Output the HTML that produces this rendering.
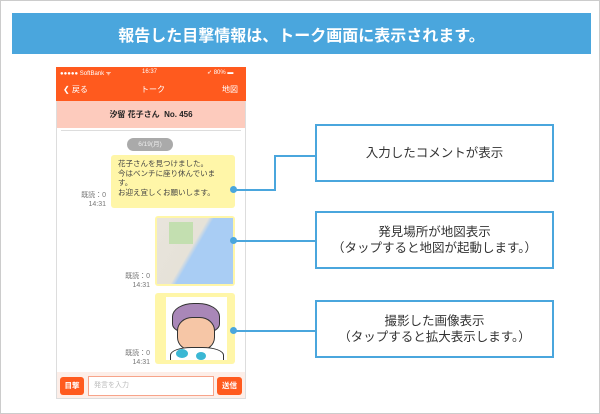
<!DOCTYPE html>
<html><head><meta charset="utf-8"><style>
*{margin:0;padding:0;box-sizing:border-box}
body{width:600px;height:414px;background:#fff;position:relative;overflow:hidden;font-family:"Liberation Sans","Noto Sans CJK JP",sans-serif}
.a{position:absolute}
.box{position:absolute;left:315px;width:239px;border:2px solid #4aa6dd;background:#fff;display:flex;align-items:center;justify-content:center;text-align:center;font-size:12.5px;color:#333;line-height:16px}
.ln{position:absolute;background:#4aa6dd}
.dot{position:absolute;width:7px;height:7px;border-radius:50%;background:#4aa6dd}
.rd{position:absolute;font-size:7px;color:#777;text-align:right;line-height:9px}
</style></head><body>
<div class="a" style="left:0;top:0;width:600px;height:414px;border:1px solid #ccc"></div>
<div class="a" style="left:12px;top:13px;width:579px;height:41px;background:#4aa6dd;color:#fff;font-size:16px;font-weight:bold;display:flex;align-items:center;justify-content:center">報告した目撃情報は、トーク画面に表示されます。</div>

<!-- phone -->
<div class="a" style="left:56px;top:67px;width:190px;height:332px;background:#fff;border:1px solid #ddd"></div>
<div class="a" style="left:56px;top:67px;width:190px;height:34px;background:#ff5a1e;color:#fff"></div>
<div class="a" style="left:60px;top:69px;font-size:6px;color:#fff">●●●●● SoftBank ᯤ</div>
<div class="a" style="left:142px;top:69px;font-size:6px;color:#fff">16:37</div>
<div class="a" style="left:207px;top:69px;font-size:6px;color:#fff">➶ 80% ▬</div>
<div class="a" style="left:63px;top:84px;font-size:8px;color:#fff">❮ 戻る</div>
<div class="a" style="left:141px;top:84px;font-size:8px;color:#fff">トーク</div>
<div class="a" style="left:222px;top:84px;font-size:8px;color:#fff">地図</div>
<div class="a" style="left:57px;top:101px;width:188px;height:27px;background:#fdcbbd;font-size:8px;font-weight:bold;color:#222;display:flex;align-items:center;justify-content:center">汐留 花子さん&nbsp;&nbsp;No. 456</div>
<div class="a" style="left:61px;top:130px;width:180px;height:1px;background:#ddd"></div>
<div class="a" style="left:127px;top:138px;width:46px;height:13px;border-radius:7px;background:#aaa;color:#eee;font-size:6.5px;text-align:center;line-height:13px">6/19(月)</div>
<div class="a" style="left:111px;top:155px;width:124px;height:53px;background:#fff6a8;border-radius:3px;padding:4px 7px;font-size:7.5px;line-height:9.5px;color:#444">花子さんを見つけました。<br>今はベンチに座り休んでいます。<br>お迎え宜しくお願いします。</div>
<div class="rd" style="left:80px;top:191px;width:26px">既読：0<br>14:31</div>
<div class="a" style="left:155px;top:216px;width:80px;height:70px;background:#fff6a8;border-radius:3px;padding:2px"><div style="width:100%;height:100%;background:linear-gradient(120deg,#e8e4dc 0%,#e6e2d8 45%,#a9cdf4 50%,#a9cdf4 100%)"><div style="position:relative;left:12px;top:4px;width:24px;height:22px;background:#c3dfb0"></div></div></div>
<div class="rd" style="left:118px;top:272px;width:32px">既読：0<br>14:31</div>
<div class="a" style="left:155px;top:293px;width:80px;height:71px;background:#fff6a8;border-radius:3px"></div>
<div class="a" style="left:166px;top:297px;width:61px;height:63px;background:#fff;overflow:hidden">
 <div class="a" style="left:6px;top:6px;width:48px;height:30px;border-radius:45% 45% 30% 30%;background:#a987b8;border:1px solid #333"></div>
 <div class="a" style="left:11px;top:20px;width:38px;height:34px;border-radius:40%;background:#f6c6a6;border:1px solid #333"></div>
 <div class="a" style="left:4px;top:50px;width:54px;height:20px;border-radius:40% 40% 0 0;background:#fff;border:1px solid #333"></div>
 <div class="a" style="left:10px;top:52px;width:12px;height:9px;border-radius:50%;background:#3bb7d4"></div>
 <div class="a" style="left:30px;top:55px;width:10px;height:8px;border-radius:50%;background:#3bb7d4"></div>
</div>
<div class="rd" style="left:118px;top:349px;width:32px">既読：0<br>14:31</div>
<div class="a" style="left:57px;top:372px;width:188px;height:26px;background:#fdeee8"></div>
<div class="a" style="left:60px;top:377px;width:24px;height:18px;border-radius:3px;background:#ff5a1e;color:#fff;font-size:7.5px;font-weight:bold;text-align:center;line-height:18px">目撃</div>
<div class="a" style="left:88px;top:376px;width:126px;height:20px;border:1px solid #f7a48a;background:#fff;font-size:7px;color:#bbb;padding-left:5px;line-height:18px">発言を入力</div>
<div class="a" style="left:217px;top:377px;width:25px;height:18px;border-radius:3px;background:#ff5a1e;color:#fff;font-size:7.5px;font-weight:bold;text-align:center;line-height:18px">送信</div>

<!-- connectors -->
<div class="ln" style="left:233px;top:189px;width:43px;height:2px"></div>
<div class="ln" style="left:274px;top:155px;width:2px;height:36px"></div>
<div class="ln" style="left:274px;top:155px;width:42px;height:2px"></div>
<div class="dot" style="left:230px;top:186px"></div>
<div class="ln" style="left:233px;top:240px;width:83px;height:2px"></div>
<div class="dot" style="left:230px;top:237px"></div>
<div class="ln" style="left:233px;top:330px;width:83px;height:2px"></div>
<div class="dot" style="left:230px;top:327px"></div>

<div class="box" style="top:124px;height:58px">入力したコメントが表示</div>
<div class="box" style="top:211px;height:58px">発見場所が地図表示<br>（タップすると地図が起動します。）</div>
<div class="box" style="top:300px;height:58px">撮影した画像表示<br>（タップすると拡大表示します。）</div>
</body></html>
